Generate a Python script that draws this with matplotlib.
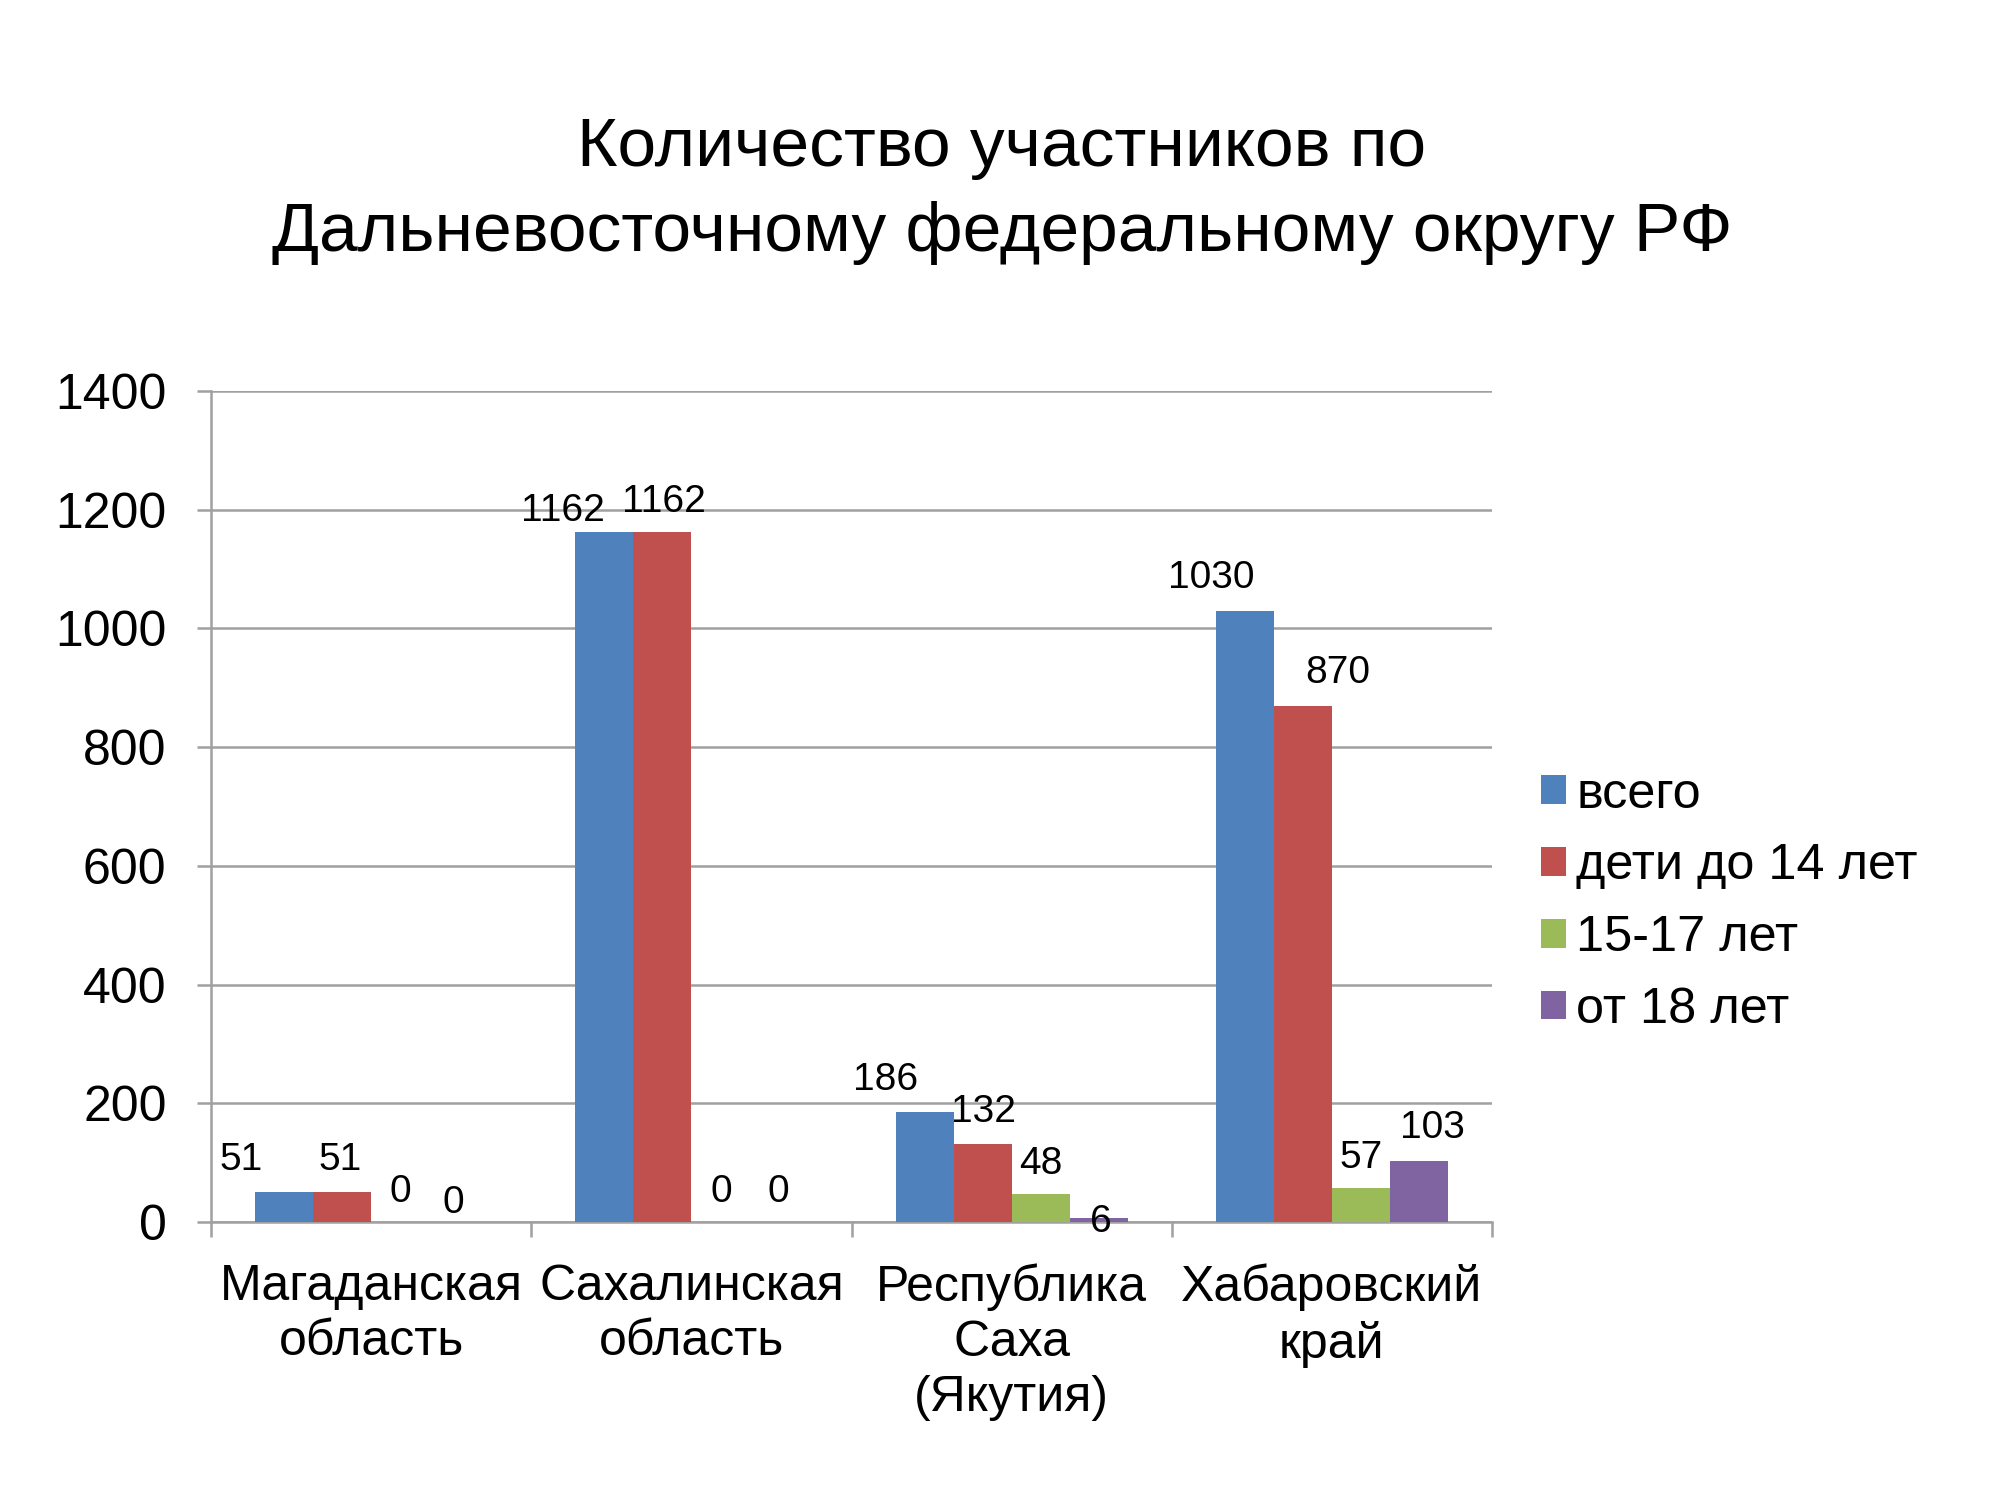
import matplotlib
matplotlib.use("Agg")
import matplotlib.pyplot as plt
import numpy as np

plt.rcParams['font.family'] = ['Liberation Sans', 'DejaVu Sans']

title = "Количество участников по\nДальневосточному федеральному округу РФ"
categories = ["Магаданская\nобласть", "Сахалинская\nобласть", "Республика\nСаха\n(Якутия)", "Хабаровский\nкрай"]
series_names = ["всего", "дети до 14 лет", "15-17 лет", "от 18 лет"]
vsego = [51, 1162, 186, 1030]
deti_do_14 = [51, 1162, 132, 870]
let_15_17 = [0, 0, 48, 57]
ot_18 = [0, 0, 6, 103]
yticks = [0, 200, 400, 600, 800, 1000, 1200, 1400]

series = [vsego, deti_do_14, let_15_17, ot_18]
colors = ["#4F81BD", "#C0504D", "#9BBB59", "#8064A2"]
# label offsets in pixels relative to (bar centre, bar top) -- style only
label_offsets = [
    [(-43, 22), (-41, 11), (-39, 22), (-34, 23)],
    [(-2, 22), (2, 20), (1, 22), (35, 23)],
    [(0, 20), (1, 20), (0, 20), (0, 20)],
    [(-5, 9), (0, 20), (2, -14), (14, 23)],
]

fig = plt.figure(figsize=(20, 15), dpi=100)
ax = fig.add_axes([0.1055, 0.1853, 0.746 - 0.1055, 0.7393 - 0.1853])

x = np.arange(len(categories))
w = 0.181
grid_c = "#A0A0A0"
for i, (vals, name, c) in enumerate(zip(series, series_names, colors)):
    pos = x + (i - 1.5) * w
    bars = ax.bar(pos, vals, width=w, color=c, label=name, zorder=3)
    for j, (b, v) in enumerate(zip(bars, vals)):
        dx, dy = label_offsets[i][j]
        ax.annotate(str(v), (b.get_x() + b.get_width() / 2, v),
                    xytext=(dx, dy), textcoords='offset pixels',
                    ha='center', va='baseline', fontsize=28, zorder=4)

ax.set_xlim(-0.5, len(categories) - 0.5)
ax.set_ylim(0, 1400)
ax.set_yticks(yticks)
ax.set_yticklabels([str(t) for t in yticks], fontsize=36)
ax.yaxis.grid(True, color=grid_c, linewidth=1.8, zorder=0)
ax.set_axisbelow(True)

ax.set_xticks(x)
ax.set_xticklabels(categories, fontsize=36, linespacing=1.25)
ax.set_xticks(np.arange(-0.5, len(categories)), minor=True)
ax.tick_params(axis='x', which='major', length=0, pad=30)
ax.tick_params(axis='x', which='minor', length=11, width=1.8, color=grid_c, direction='out')
ax.tick_params(axis='y', length=10, width=1.8, color=grid_c, direction='out', pad=22)

for s in ['top', 'right']:
    ax.spines[s].set_visible(False)
for s in ['left', 'bottom']:
    ax.spines[s].set_color(grid_c)
    ax.spines[s].set_linewidth(1.8)

leg = ax.legend(loc='center left', bbox_to_anchor=(0.7705, 0.3985),
                bbox_transform=fig.transFigure, frameon=False, fontsize=36.3,
                handlelength=0.5, handleheight=0.5, handletextpad=0.2,
                labelspacing=0.51, borderpad=0, borderaxespad=0)

fig.text(0.501, 0.8733, title, ha='center', va='center', fontsize=50,
         linespacing=1.42)

fig.savefig("out.png", dpi=100, facecolor='white')
